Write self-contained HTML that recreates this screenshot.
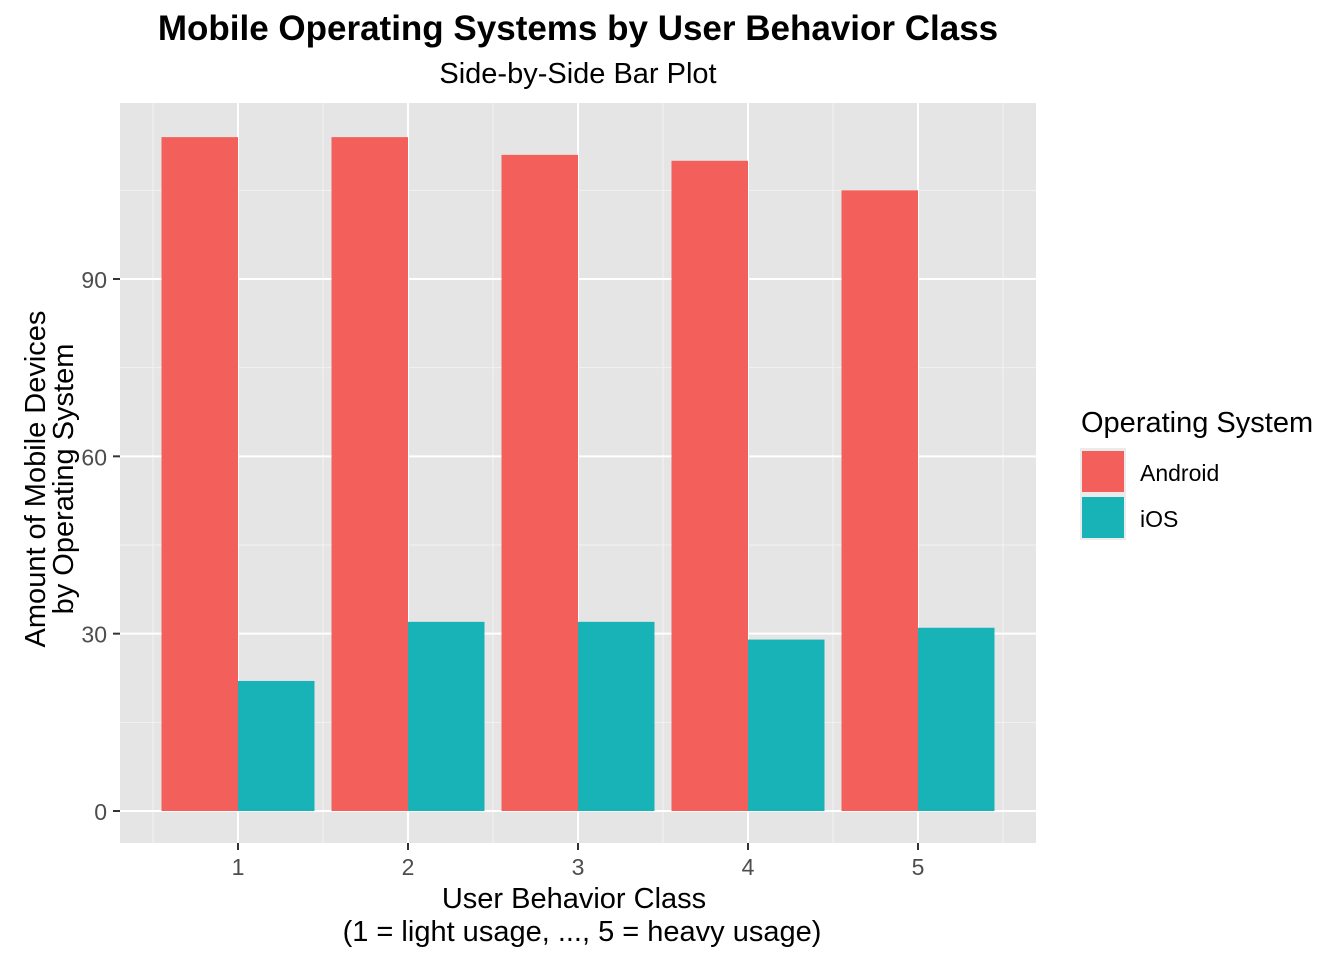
<!DOCTYPE html>
<html><head><meta charset="utf-8"><style>
body{margin:0;background:#fff;}
svg text{font-family:"Liberation Sans",Arial,sans-serif;}
</style></head><body>
<svg id="chart" width="1344" height="960" xmlns="http://www.w3.org/2000/svg">
<text x="578" y="40" text-anchor="middle" font-size="35" font-weight="bold" fill="#000">Mobile Operating Systems by User Behavior Class</text>
<text x="578" y="83" text-anchor="middle" font-size="29" fill="#000">Side-by-Side Bar Plot</text>
<rect x="120" y="103" width="916" height="740" fill="#e5e5e5"/>
<g id="grid"></g>
<g id="bars"></g>
<g id="axes"></g>
<text x="574" y="908" text-anchor="middle" font-size="29" fill="#000">User Behavior Class</text>
<text x="582" y="941" text-anchor="middle" font-size="29" fill="#000">(1 = light usage, ..., 5 = heavy usage)</text>
<g transform="translate(45,479) rotate(-90)">
<text x="0" y="0" text-anchor="middle" font-size="29" fill="#000">Amount of Mobile Devices</text>
<text x="0" y="28" text-anchor="middle" font-size="29" fill="#000">by Operating System</text>
</g>
<text x="1081" y="432" font-size="29" fill="#000">Operating System</text>
<g>
<rect x="1080" y="448" width="46" height="46" fill="#ebebeb"/>
<rect x="1082" y="451" width="42" height="41" fill="#f35f5a"/>
<text x="1140" y="481" font-size="23" fill="#000">Android</text>
</g>
<g>
<rect x="1080" y="494" width="46" height="46" fill="#ebebeb"/>
<rect x="1082" y="497" width="42" height="41" fill="#17b3b7"/>
<text x="1140" y="527" font-size="23" fill="#000">iOS</text>
</g>
</svg>
<script>
const categories=["1","2","3","4","5"];
const androidValues=[114,114,111,110,105];
const iosValues=[22,32,32,29,31];
const yTicks=[0,30,60,90];
const yMinor=[15,45,75,105];
const NS="http://www.w3.org/2000/svg";
function y(v){return 811-v*(532/90);}
function x(i){return 238+i*170;}
function mk(tag,attrs,parent){const e=document.createElementNS(NS,tag);for(const k in attrs)e.setAttribute(k,attrs[k]);document.getElementById(parent).appendChild(e);return e;}
yMinor.forEach(v=>{const l=mk("line",{x1:120,x2:1036,y1:y(v),y2:y(v),stroke:"#f2f2f2","stroke-width":1},"grid");

});
categories.forEach((c,i)=>{const l=mk("line",{x1:x(i)-85,x2:x(i)-85,y1:103,y2:843,stroke:"#f2f2f2","stroke-width":1},"grid");

});
const lr=mk("line",{x1:x(categories.length-1)+85,x2:x(categories.length-1)+85,y1:103,y2:843,stroke:"#f2f2f2","stroke-width":1},"grid");


yTicks.forEach(v=>{const l=mk("line",{x1:120,x2:1036,y1:y(v),y2:y(v),stroke:"#fff","stroke-width":2},"grid");


const t=mk("line",{x1:113,x2:120,y1:y(v),y2:y(v),stroke:"#333","stroke-width":2},"axes");


const tx=mk("text",{x:107,y:y(v)+9,"text-anchor":"end","font-size":23,fill:"#4d4d4d"},"axes");tx.textContent=v;

});
categories.forEach((c,i)=>{const l=mk("line",{x1:x(i),x2:x(i),y1:103,y2:843,stroke:"#fff","stroke-width":2},"grid");


const a=mk("rect",{x:x(i)-76.5,y:y(androidValues[i]),width:76.5,height:y(0)-y(androidValues[i]),fill:"#f35f5a"},"bars");


const b=mk("rect",{x:x(i),y:y(iosValues[i]),width:76.5,height:y(0)-y(iosValues[i]),fill:"#17b3b7"},"bars");


const t=mk("line",{x1:x(i),x2:x(i),y1:843,y2:850,stroke:"#333","stroke-width":2},"axes");


const tx=mk("text",{x:x(i),y:875,"text-anchor":"middle","font-size":23,fill:"#4d4d4d"},"axes");tx.textContent=c;

});
</script>
</body></html>
